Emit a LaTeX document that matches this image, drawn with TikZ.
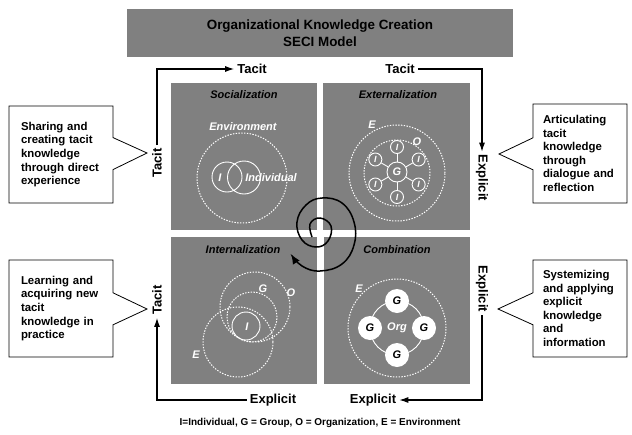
\documentclass[tikz,border=0pt]{standalone}
\usepackage{fontspec}
\setmainfont{Liberation Sans}
\usetikzlibrary{arrows.meta,shapes.callouts}
\definecolor{seciGray}{RGB}{128,128,128}

\begin{document}
\begin{tikzpicture}[x=1pt,y=-1pt,>={Latex[length=9pt,width=6pt]},
  panel/.style={fill=seciGray,inner sep=0pt,minimum width=146pt,minimum height=147pt},
  ptitle/.style={font=\fontsize{11}{13}\selectfont\bfseries\itshape},
  side/.style={font=\fontsize{13}{15}\selectfont\bfseries,inner sep=3pt},
  flow/.style={->,line width=1.1pt},
  note/.style={rectangle callout,draw,fill=white,line width=0.8pt,align=left,
    callout pointer width=32pt,minimum height=97pt,
    font=\fontsize{11.4}{13.6}\selectfont\bfseries},
  env/.style={draw=white,line width=1pt,dash pattern=on 1.4pt off 1.4pt},
  ring/.style={draw=white,line width=0.9pt},
  wtxt/.style={text=white,font=\fontsize{11}{13}\selectfont\bfseries\itshape,inner sep=0pt},
  inode/.style={circle,ring,minimum size=13pt,inner sep=0pt,text=white,
    font=\fontsize{9}{9}\selectfont\bfseries\itshape},
  gnode/.style={circle,fill=white,minimum size=24pt,inner sep=0pt,
    font=\fontsize{11}{11}\selectfont\bfseries\itshape}]
\path[use as bounding box,fill=white] (0,0) rectangle (632,434);

% title and the four modes
\node[fill=seciGray,minimum width=386pt,minimum height=48pt,align=center,
  font=\fontsize{13.4}{17}\selectfont\bfseries] (title) at (320,33)
  {Organizational Knowledge Creation\\SECI Model};
\node[panel] (soc) at (244,156.5) {};
\node[panel,minimum width=147pt] (ext) at (396.5,156.5) {};
\node[panel] (int) at (244,310) {};
\node[panel] (com) at (397,310) {};
\node[ptitle] (socT) at (244,95) {Socialization};
\node[ptitle] (extT) at (398,95) {Externalization};
\node[ptitle] (intT) at (243,250) {Internalization};
\node[ptitle] (comT) at (397,250) {Combination};

% tacit / explicit cycle
\node[side,rotate=90] (tacL1) at (157,163) {Tacit};
\node[side] (tacT1) at (252,69) {Tacit};
\node[side] (tacT2) at (400,69) {Tacit};
\node[side,rotate=-90] (expR1) at (482,178) {Explicit};
\node[side,rotate=-90] (expR2) at (482,289) {Explicit};
\node[side] (expB2) at (373,400) {Explicit};
\node[side] (expB1) at (273,400) {Explicit};
\node[side,rotate=90] (tacL2) at (157,300) {Tacit};
\draw[flow] (tacL1.east) |- (tacT1.west);
\draw[flow] (tacT2.east) -| (expR1.west);
\draw[flow] (expR2.east) |- (expB2.east);
\draw[flow] (expB1.west) -| (tacL2.west);

% callouts
\coordinate (tipSoc) at (147,153);
\coordinate (tipExt) at (499,154);
\coordinate (tipInt) at (147,309);
\coordinate (tipCom) at (498,309);
\node[note,text width=80pt,inner xsep=12pt,callout absolute pointer={(tipSoc)}] (noteSoc)
  at (61,154.5) {Sharing and\\creating tacit\\knowledge\\through direct\\experience};
\node[note,text width=74pt,inner xsep=10pt,minimum height=99pt,callout absolute pointer={(tipExt)}] (noteExt)
  at (580,153.5) {Articulating\\tacit\\knowledge\\through\\dialogue and\\reflection};
\node[note,text width=80pt,inner xsep=12pt,callout absolute pointer={(tipInt)}] (noteInt)
  at (61,308.5) {Learning and\\acquiring new\\tacit\\knowledge in\\practice};
\node[note,text width=74pt,inner xsep=10pt,callout absolute pointer={(tipCom)}] (noteCom)
  at (580,308.5) {Systemizing\\and applying\\explicit\\knowledge\\and\\information};

% socialization
\draw[env] (242,178) circle (45pt);
\draw[ring] (227,177) circle (15pt) (244,177.5) circle (16.5pt);
\node[wtxt] (envS) at (243,127) {Environment};
\node[wtxt] (iS) at (220,178) {I};
\node[wtxt] (indS) at (271,178) {Individual};

% externalization
\draw[env] (397,173) circle (48pt) (397,173) circle (33pt);
\node[wtxt] (eExt) at (372,125) {E};
\node[wtxt] (oExt) at (417,142) {O};
\node[inode,minimum size=20pt,font=\fontsize{11}{11}\selectfont\bfseries\itshape] (gExt) at (397,172) {G};
\foreach \a [count=\k] in {90,30,-30,-90,-150,150}{
  \node[inode] (iExt\k) at ({397+25*cos(\a)},{172-25*sin(\a)}) {I};
  \draw[ring] (gExt) -- (iExt\k);
}

% internalization
\draw[env] (255,307) circle (35pt) (252,317) circle (25pt) (238,342) circle (35pt);
\draw[ring] (246,326) circle (14pt);
\node[wtxt] (gInt) at (263,289) {G};
\node[wtxt] (oInt) at (291,293) {O};
\node[wtxt] (iInt) at (247,327) {I};
\node[wtxt] (eInt) at (196,355) {E};

% combination
\draw[env] (397,328) circle (49pt);
\draw[ring] (397,328) circle (27pt);
\foreach \a [count=\k] in {90,0,-90,180}
  \node[gnode] (gCom\k) at ({397+27*cos(\a)},{328-27*sin(\a)}) {G};
\node[wtxt] (orgC) at (397,328) {Org};
\node[wtxt] (eCom) at (359,289) {E};

% spiral
\draw[line width=1.5pt,-{Latex[length=10pt,width=8pt]}] plot[smooth,tension=0.7] coordinates {
  (312,237) (310,224) (320,218) (331,226) (328,241) (316,247) (302,240) (297,222)
  (306,205) (322,198) (342,203) (354,222) (354,245) (342,264) (320,271) (302,266) (291,254)};

\node[font=\fontsize{10}{12}\selectfont\bfseries] (legend) at (320,423)
  {I=Individual, G = Group, O = Organization, E = Environment};
\end{tikzpicture}
\end{document}
